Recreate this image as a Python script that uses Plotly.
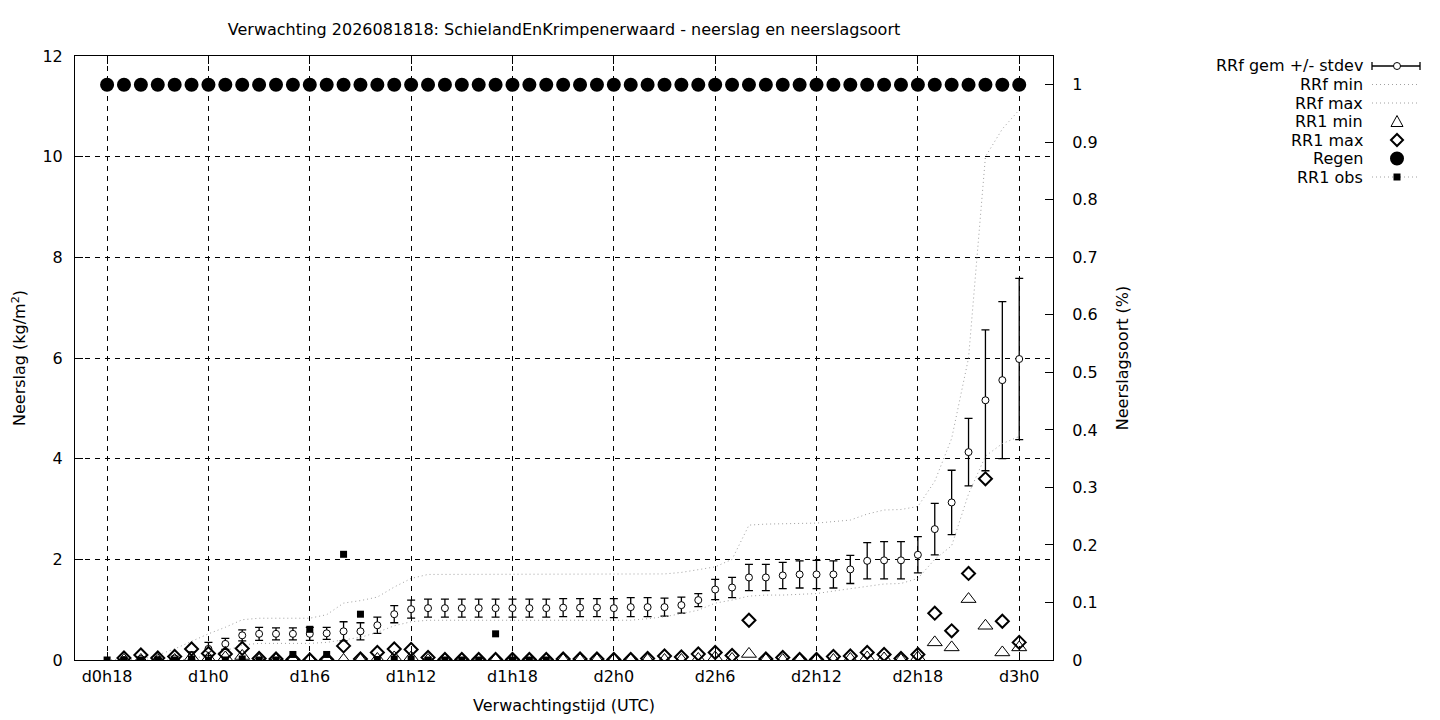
import plotly.graph_objects as go

# ---------------- data ----------------
lead_hours = [0, 1, 2, 3, 4, 5, 6, 7, 8, 9, 10, 11, 12, 13, 14, 15, 16, 17, 18, 19,
              20, 21, 22, 23, 24, 25, 26, 27, 28, 29, 30, 31, 32, 33, 34, 35, 36, 37, 38, 39,
              40, 41, 42, 43, 44, 45, 46, 47, 48, 49, 50, 51, 52, 53, 54]

tick_hours = [0, 6, 12, 18, 24, 30, 36, 42, 48, 54]
tick_labels = ["d0h18", "d1h0", "d1h6", "d1h12", "d1h18", "d2h0", "d2h6", "d2h12", "d2h18", "d3h0"]

rrf_mean = [None, 0.0, 0.02, 0.01, 0.03, 0.08, 0.22, 0.32, 0.49, 0.52,
            0.52, 0.52, 0.52, 0.53, 0.57, 0.57, 0.69, 0.91, 1.01, 1.03,
            1.03, 1.03, 1.03, 1.03, 1.03, 1.03, 1.03, 1.04, 1.04, 1.04,
            1.03, 1.05, 1.05, 1.05, 1.09, 1.19, 1.40, 1.44, 1.64, 1.64,
            1.68, 1.70, 1.70, 1.70, 1.80, 1.97, 1.98, 1.98, 2.09, 2.60,
            3.13, 4.13, 5.16, 5.56, 5.98]

rrf_stdev = [0.0, 0.02, 0.03, 0.02, 0.04, 0.08, 0.13, 0.11, 0.11, 0.13,
             0.12, 0.12, 0.13, 0.12, 0.19, 0.17, 0.16, 0.17, 0.18, 0.18,
             0.18, 0.18, 0.18, 0.18, 0.18, 0.18, 0.18, 0.18, 0.18, 0.18,
             0.19, 0.19, 0.19, 0.18, 0.16, 0.13, 0.20, 0.20, 0.26, 0.26,
             0.26, 0.27, 0.28, 0.27, 0.28, 0.36, 0.37, 0.37, 0.36, 0.51,
             0.64, 0.67, 1.40, 1.56, 1.60]

rrf_min = [0.0, 0.0, 0.0, 0.0, 0.0, 0.02, 0.10, 0.18, 0.30, 0.33,
           0.33, 0.33, 0.33, 0.35, 0.40, 0.45, 0.55, 0.68, 0.76, 0.79,
           0.79, 0.79, 0.79, 0.79, 0.79, 0.79, 0.79, 0.79, 0.79, 0.79,
           0.79, 0.79, 0.82, 0.86, 0.92, 0.99, 1.13, 1.19, 1.27, 1.29,
           1.29, 1.30, 1.32, 1.37, 1.42, 1.47, 1.51, 1.52, 1.62, 2.00,
           2.27, 3.30, 4.05, 4.30, 4.44]

rrf_max = [0.0, 0.0, 0.01, 0.10, 0.22, 0.37, 0.52, 0.65, 0.80, 0.83,
           0.83, 0.83, 0.83, 0.90, 1.13, 1.18, 1.25, 1.45, 1.62, 1.70,
           1.70, 1.70, 1.70, 1.70, 1.70, 1.70, 1.70, 1.70, 1.70, 1.70,
           1.70, 1.70, 1.70, 1.71, 1.74, 1.80, 1.85, 2.00, 2.68, 2.70,
           2.71, 2.71, 2.72, 2.75, 2.78, 2.90, 2.98, 2.99, 3.05, 3.55,
           4.40, 6.00, 10.00, 10.55, 10.93]

rr1_min = [None, 0.0, 0.0, 0.0, 0.0, 0.05, 0.03, 0.05, 0.08, 0.0,
           0.0, 0.0, 0.0, 0.0, 0.0, 0.0, 0.02, 0.05, 0.05, 0.0,
           0.0, 0.0, 0.0, 0.0, 0.0, 0.0, 0.0, 0.0, 0.0, 0.0,
           0.0, 0.0, 0.0, 0.0, 0.0, 0.02, 0.05, 0.02, 0.12, 0.0,
           0.0, 0.0, 0.0, 0.0, 0.02, 0.05, 0.03, 0.0, 0.05, 0.35,
           0.25, 1.21, 0.68, 0.15, 0.25]

rr1_max = [None, 0.04, 0.10, 0.04, 0.07, 0.22, 0.13, 0.12, 0.23, 0.03,
           0.02, 0.01, 0.0, 0.01, 0.28, 0.02, 0.15, 0.22, 0.21, 0.05,
           0.01, 0.01, 0.01, 0.01, 0.01, 0.01, 0.01, 0.02, 0.02, 0.02,
           0.01, 0.01, 0.03, 0.08, 0.06, 0.12, 0.15, 0.09, 0.79, 0.02,
           0.05, 0.01, 0.01, 0.07, 0.08, 0.15, 0.11, 0.03, 0.11, 0.93,
           0.58, 1.72, 3.60, 0.77, 0.35]

regen = [1, 1, 1, 1, 1, 1, 1, 1, 1, 1, 1, 1, 1, 1, 1, 1, 1, 1, 1, 1,
         1, 1, 1, 1, 1, 1, 1, 1, 1, 1, 1, 1, 1, 1, 1, 1, 1, 1, 1, 1,
         1, 1, 1, 1, 1, 1, 1, 1, 1, 1, 1, 1, 1, 1, 1]

rr1_obs = [0.0, 0.0, 0.0, 0.0, 0.0, 0.02, 0.0, 0.0, 0.02, 0.0,
           0.0, 0.11, 0.61, 0.11, 2.10, 0.91, 0.01, 0.02, 0.02, 0.0,
           0.0, 0.0, 0.0, 0.52, 0.0, 0.0, 0.0, None, None, None,
           None, None, None, None, None, None, None, None, None, None,
           None, None, None, None, None, None, None, None, None, None,
           None, None, None, None, None]

legend_labels = ["RRf gem +/- stdev", "RRf min", "RRf max", "RR1 min", "RR1 max", "Regen", "RR1 obs"]

# ---------------- style ----------------
FONT = "DejaVu Sans"
FS = 16
GREY = "#a0a0a0"
W, H = 1440, 720
OFF = 8  # page body margin of the browser
# plot area in screen pixels
SL, SR, ST, SB = 75, 1053, 56, 660
# plot area in figure pixels
L, R, T, B = SL - OFF, SR - OFF, ST - OFF, SB - OFF

fig = go.Figure()

fig.add_trace(go.Scatter(
    x=lead_hours, y=rrf_mean, mode="markers", name=legend_labels[0],
    marker=dict(symbol="circle", size=7, color="white", line=dict(color="black", width=1)),
    error_y=dict(type="data", array=rrf_stdev, symmetric=True, color="black", thickness=1.3, width=4),
    showlegend=False))
fig.add_trace(go.Scatter(
    x=lead_hours, y=rrf_min, mode="lines", name=legend_labels[1],
    line=dict(color=GREY, width=1, dash="1px,3px"), showlegend=False))
fig.add_trace(go.Scatter(
    x=lead_hours, y=rrf_max, mode="lines", name=legend_labels[2],
    line=dict(color=GREY, width=1, dash="1px,3px"), showlegend=False))
fig.add_trace(go.Scatter(
    x=lead_hours, y=rr1_min, mode="markers", name=legend_labels[3],
    marker=dict(symbol="triangle-up-open", size=13, color="black", line=dict(width=1)),
    showlegend=False))
fig.add_trace(go.Scatter(
    x=lead_hours, y=rr1_max, mode="markers", name=legend_labels[4],
    marker=dict(symbol="diamond-open", size=10, color="black", line=dict(width=2)),
    showlegend=False))
fig.add_trace(go.Scatter(
    x=lead_hours, y=rr1_obs, mode="markers", name=legend_labels[6],
    marker=dict(symbol="square", size=7, color="black"),
    showlegend=False))
fig.add_trace(go.Scatter(
    x=lead_hours, y=regen, mode="markers", name=legend_labels[5], yaxis="y2",
    marker=dict(symbol="circle", size=14, color="black"),
    showlegend=False))

# ---------------- manual gnuplot-style key (screen pixel -> paper) ----------------
PW, PH = SR - SL, SB - ST
def px(x):
    return (x - SL) / PW
def py(y):
    return (SB - y) / PH

rows = [66, 84.5, 103, 121.5, 140, 158.5, 177]
text_right = 1365
s0, s1, sc = 1372, 1420, 1397
shapes = []
annotations = []
for lab, ry in zip(legend_labels, rows):
    annotations.append(dict(x=px(text_right), y=py(ry), xref="paper", yref="paper",
                            text=lab, showarrow=False, xanchor="right", yanchor="middle",
                            font=dict(family=FONT, size=FS, color="black")))
# row 0: error-bar sample
r = rows[0]
shapes.append(dict(type="line", xref="paper", yref="paper", x0=px(s0), x1=px(s1), y0=py(r), y1=py(r),
                   line=dict(color="black", width=1.3)))
for xx in (s0, s1):
    shapes.append(dict(type="line", xref="paper", yref="paper", x0=px(xx), x1=px(xx), y0=py(r - 4), y1=py(r + 4),
                       line=dict(color="black", width=1.3)))
shapes.append(dict(type="circle", xref="paper", yref="paper", x0=px(sc - 3.5), x1=px(sc + 3.5),
                   y0=py(r - 3.5), y1=py(r + 3.5), fillcolor="white", line=dict(color="black", width=1)))
# rows 1,2: dotted lines
for r in (rows[1], rows[2]):
    shapes.append(dict(type="line", xref="paper", yref="paper", x0=px(s0), x1=px(s1), y0=py(r), y1=py(r),
                       line=dict(color=GREY, width=1, dash="1px,3px")))
# row 3: triangle
r = rows[3]
shapes.append(dict(type="path", xref="paper", yref="paper",
                   path=f"M {px(sc-6)},{py(r+5)} L {px(sc+6)},{py(r+5)} L {px(sc)},{py(r-6)} Z",
                   line=dict(color="black", width=1)))
# row 4: diamond
r = rows[4]
shapes.append(dict(type="path", xref="paper", yref="paper",
                   path=f"M {px(sc-6)},{py(r)} L {px(sc)},{py(r-6)} L {px(sc+6)},{py(r)} L {px(sc)},{py(r+6)} Z",
                   line=dict(color="black", width=2)))
# row 5: filled circle
r = rows[5]
shapes.append(dict(type="circle", xref="paper", yref="paper", x0=px(sc - 7), x1=px(sc + 7),
                   y0=py(r - 7), y1=py(r + 7), fillcolor="black", line=dict(color="black", width=0)))
# row 6: dotted line + square
r = rows[6]
shapes.append(dict(type="line", xref="paper", yref="paper", x0=px(s0), x1=px(s1), y0=py(r), y1=py(r),
                   line=dict(color=GREY, width=1, dash="1px,3px")))
shapes.append(dict(type="rect", xref="paper", yref="paper", x0=px(sc - 3.5), x1=px(sc + 3.5),
                   y0=py(r - 3.5), y1=py(r + 3.5), fillcolor="black", line=dict(width=0)))

axis_common = dict(
    showline=True, linecolor="black", linewidth=1,
    ticks="inside", tickcolor="black", ticklen=8, tickwidth=1,
    zeroline=False, automargin=False,
    tickfont=dict(family=FONT, size=FS, color="black"),
)

fig.update_layout(
    width=W, height=H,
    margin=dict(l=L, r=W - R, t=T, b=H - B, pad=0, autoexpand=False),
    plot_bgcolor="white", paper_bgcolor="white",
    font=dict(family=FONT, size=FS, color="black"),
    title=dict(text="Verwachting 2026081818: SchielandEnKrimpenerwaard - neerslag en neerslagsoort",
               x=0.5, xref="paper", xanchor="center", y=1 - (29 - OFF) / H, yref="container",
               yanchor="middle", font=dict(family=FONT, size=FS, color="black"), automargin=False),
    xaxis=dict(range=[-1.9, 56.0], tickvals=tick_hours, ticktext=tick_labels, mirror="ticks",
               showgrid=True, gridcolor="black", gridwidth=1, griddash="5px,5px",
               ticklabelstandoff=2,
               title=dict(text="Verwachtingstijd (UTC)", standoff=14,
                          font=dict(family=FONT, size=FS, color="black")),
               **axis_common),
    yaxis=dict(range=[0, 12], tickvals=[0, 2, 4, 6, 8, 10, 12], mirror=True,
               showgrid=True, gridcolor="black", gridwidth=1, griddash="5px,5px",
               ticklabelstandoff=8,
               title=dict(text="Neerslag (kg/m<sup>2</sup>)", standoff=12,
                          font=dict(family=FONT, size=FS, color="black")),
               **axis_common),
    yaxis2=dict(range=[0, 1.05], overlaying="y", side="right",
                tickvals=[0, 0.1, 0.2, 0.3, 0.4, 0.5, 0.6, 0.7, 0.8, 0.9, 1.0],
                ticktext=["0", "0.1", "0.2", "0.3", "0.4", "0.5", "0.6", "0.7", "0.8", "0.9", "1"],
                showgrid=False, ticklabelstandoff=15,
                title=dict(text="Neerslagsoort (%)", standoff=20,
                           font=dict(family=FONT, size=FS, color="black")),
                **axis_common),
    shapes=shapes,
    annotations=annotations,
    showlegend=False,
)

fig.write_html("out.html")
